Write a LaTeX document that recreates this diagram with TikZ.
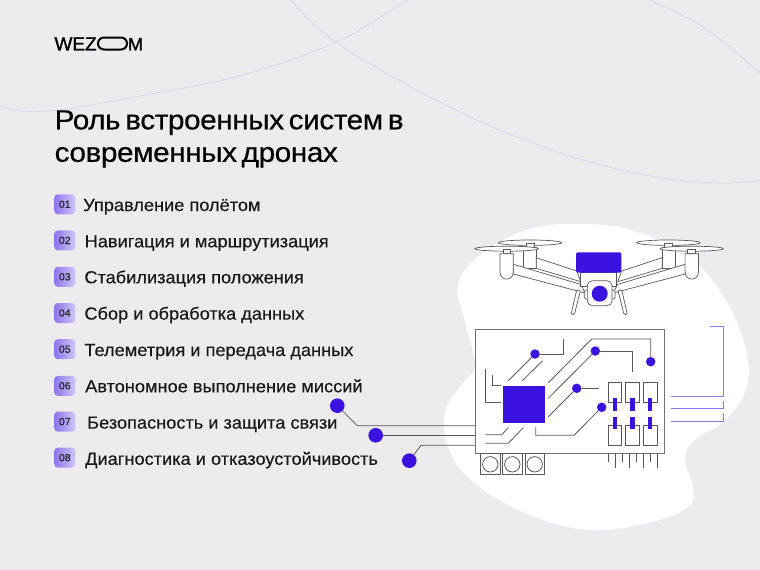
\documentclass[tikz,border=0pt]{standalone}
\usepackage{fontspec}
\setmainfont{Liberation Sans}
\newfontfamily\titlef[FakeBold=0.45,FakeStretch=1.08,LetterSpace=-1.5,WordSpace=0.6]{Liberation Sans}
\newfontfamily\itemf[FakeBold=0.3,FakeStretch=1.04]{Liberation Sans}
\newfontfamily\numf[FakeBold=0.4]{Liberation Sans}
\newfontfamily\logof[FakeBold=1.2]{Liberation Sans}
\definecolor{bgc}{HTML}{ECECEE}
\definecolor{blu}{HTML}{3C12E0}
\definecolor{lin}{HTML}{58585C}
\definecolor{pur}{HTML}{8A78EC}
\definecolor{fnt}{HTML}{D2D2F2}
\tikzset{
  dotn/.style={circle,fill=blu,inner sep=0pt,minimum size=9.5pt},
  bigdot/.style={circle,fill=blu,inner sep=0pt,minimum size=14.6pt},
  trace/.style={draw=lin,line width=0.8pt},
  dr/.style={draw=lin,line width=0.7pt,fill=white},
  box/.style={draw=lin,line width=0.8pt},
  purl/.style={draw=pur,line width=0.9pt},
  bar/.style={fill=blu},
  faint/.style={draw=fnt,line width=0.6pt},
  badge/.style={rectangle,rounded corners=3.5pt,left color=blu!58!white,right color=blu!24!white,minimum width=21pt,minimum height=20pt,inner sep=0pt,font=\numf\fontsize{10.5}{12}\selectfont,text=black!85},
  item/.style={anchor=base west,inner sep=0pt,font=\itemf\fontsize{17.5}{20}\selectfont,text=black!90},
  ttl/.style={anchor=base west,inner sep=0pt,font=\titlef\fontsize{27.5}{32}\selectfont,text=black},
}
\newcommand{\halfdrone}{%
  \path[dr] (530,242.7) ellipse (31.7 and 2.7);
  \path[dr] (526.3,243.3) rectangle (534.3,247.3);
  \path[dr] (523.3,247.3) rectangle (536.3,268.3);
  \path[dr] (536.3,257.7) -- (576.7,271) -- (580.7,281.7) -- (536.3,268.3) -- cycle;
  \path[dr] (513.3,264.3) -- (581,284.5) -- (585,293) -- (513.3,274) -- cycle;
  \path[dr] (506.7,248.7) ellipse (31.7 and 2.5);
  \path[dr] (503,249.3) rectangle (510.7,253.7);
  \path[dr] (500,253.7) -- (500,272) .. controls (500,281.5) and (513.3,281.5) .. (513.3,272) -- (513.3,253.7) -- cycle;
  \path[dr,rounded corners=1.3pt] (576.7,290) -- (580.5,290) -- (574.4,314.5) -- (571,314.5) -- cycle;
}
\begin{document}
\begin{tikzpicture}[x=1pt,y=-1pt]
\useasboundingbox (0,0) rectangle (760,570);
\fill[bgc] (0,0) rectangle (760,570);
% faint arcs
\begin{scope}
\clip (0,0) rectangle (760,570);
\draw[faint] plot[smooth,tension=0.7] coordinates {(-10,105) (0,107) (48,111) (145,95) (242,75) (336,42) (407,0) (420,-10)};
\draw[faint] plot[smooth,tension=0.7] coordinates {(285,-10) (291,0) (336,42) (436,100) (533,143) (630,172) (717,183) (770,178)};
\draw[faint] plot[smooth,tension=0.7] coordinates {(635,-10) (650,0) (703,27) (760,73) (770,85)};
\end{scope}
% blob
\fill[white] plot[smooth cycle,tension=0.65] coordinates {(587,224) (530,229) (480,255) (458,285) (465,322) (475,365) (463,383) (445,412) (450,452) (477,485) (530,515) (590,530) (647,523) (687,508) (693,488) (685,458) (697,438) (723,422) (745,392) (747,355) (727,302) (690,258) (637,232)};
% logo
\node[anchor=base west,inner sep=0pt,font=\logof\fontsize{19}{20}\selectfont] (wez) at (54.3,50.4) {WEZ};
\node[draw=black,line width=2pt,rounded corners=6pt,inner sep=0pt,minimum width=29pt,minimum height=12pt] (logoo) at (112.5,43.5) {};
\node[anchor=base west,inner sep=0pt,font=\logof\fontsize{18}{20}\selectfont] (logom) at (127.8,50.4) {M};
% title
\node[ttl] (t1) at (54.5,129.3) {Роль встроенных систем в};
\node[ttl] (t2) at (54.5,161.8) {современных дронах};
% badges & list
\node[badge] (b1) at (64.8,204.3) {01};
\node[badge] (b2) at (64.8,240.4) {02};
\node[badge] (b3) at (64.8,276.8) {03};
\node[badge] (b4) at (64.8,313) {04};
\node[badge] (b5) at (64.8,349.2) {05};
\node[badge] (b6) at (64.8,385.8) {06};
\node[badge] (b7) at (64.8,421.6) {07};
\node[badge] (b8) at (64.8,457.6) {08};
\node[item] (i1) at (83,211) {Управление полётом};
\node[item] (i2) at (84.5,247.3) {Навигация и маршрутизация};
\node[item] (i3) at (84.2,283.3) {Стабилизация положения};
\node[item] (i4) at (84.2,319.6) {Сбор и обработка данных};
\node[item] (i5) at (84.2,356) {Телеметрия и передача данных};
\node[item] (i6) at (85,392.3) {Автономное выполнение миссий};
\node[item] (i7) at (87,428.6) {Безопасность и защита связи};
\node[item] (i8) at (85,464.8) {Диагностика и отказоустойчивость};
% drone
\halfdrone
\begin{scope}[shift={(1198.4,0)},xscale=-1]
\halfdrone
\end{scope}
\path[dr] (580.7,272.7) rectangle (616.7,286.7);
\path[dr,rounded corners=1.5pt] (584.3,290) rectangle (615,299);
\node[draw=lin,line width=0.7pt,fill=white,rounded corners=5pt,minimum width=24.7pt,minimum height=25pt,inner sep=0pt] (cam) at (599.7,293.2) {};
\node[circle,fill=blu,inner sep=0pt,minimum size=16pt] (lens) at (599.7,293.7) {};
\node[fill=blu,rounded corners=1.5pt,minimum width=45.3pt,minimum height=20.4pt,inner sep=0pt] (payload) at (598.7,262.5) {};
% board
\node[draw=lin!85,line width=1pt,fill=white,minimum width=189pt,minimum height=123.3pt,inner sep=0pt] (board) at (569.8,391.35) {};
\node[fill=blu,minimum width=41.7pt,minimum height=37.3pt,inner sep=0pt] (chip) at (523.85,404.65) {};
% dots
\node[dotn] (dA) at (535,354) {};
\node[dotn] (dB) at (595.3,351) {};
\node[dotn] (dC) at (576.7,388.3) {};
\node[dotn] (dD) at (601.7,407.3) {};
\node[dotn] (dE) at (650.7,361.7) {};
\node[bigdot] (L1) at (337.3,405.7) {};
\node[bigdot] (L2) at (375.7,435.3) {};
\node[bigdot] (L3) at (409.3,460.7) {};
% traces
\draw[trace] (dA) -- (563.3,354) -- (563.3,339);
\draw[trace] (dA) -- (508.3,380.7);
\draw[trace] (542.7,360.7) -- (522.3,380.7);
\draw[trace] (485.3,369) -- (485.3,402.3) -- (500.7,402.3);
\draw[trace] (492.7,375.3) -- (492.7,385.7) -- (500.7,385.7);
\draw[trace] (548.3,382.7) -- (591.7,339) -- (650.7,339) -- (dE);
\draw[trace] (dB) -- (632.7,351) -- (632.7,372.3);
\draw[trace] (dB) -- (548.3,398.3);
\draw[trace] (dC) -- (599.3,388.3);
\draw[trace] (dC) -- (548.3,416.7);
\draw[trace] (dD) -- (574,435.3) -- (535.7,435.3) -- (535.7,427.3);
\draw[trace] (508.3,427.7) -- (501.7,434.7) -- (485.3,434.7);
\draw[trace] (523.3,427.7) -- (508.3,443.3) -- (485.3,443.3);
% external leads
\coordinate (k1) at (357.3,425.7);
\coordinate (k3) at (421,445.3);
\draw[trace] (L1) -- (k1) -- (k1 -| board.west);
\draw[trace] (L2) -- (L2 -| board.west);
\draw[trace] (L3) -- (k3) -- (k3 -| board.west);
% pads
\foreach \n/\xa/\xb/\cx in {1/480.7/500/490.3,2/502.7/522/512.3,3/525/544.3/534.7}{
  \draw[box] (\xa,453) rectangle (\xb,474.3);
  \node[draw=lin,line width=0.8pt,circle,minimum size=15.4pt,inner sep=0pt] (pad\n) at (\cx,464.3) {};
}
% components
\foreach \xa/\xb/\c in {608.3/621.7/615,625.7/639.7/632.4,643.7/657.3/650.2}{
  \draw[box] (\xa,382.7) rectangle (\xb,402.7);
  \draw[box] (\xa,425.3) rectangle (\xb,445.3);
  \fill[bar] (\c-2.2,398.3) rectangle (\c+2.2,411);
  \fill[bar] (\c-2.2,417) rectangle (\c+2.2,429.3);
}
% pins
\foreach \x/\l in {608.3/461.7,615.3/467.7,622.3/461.7,629.3/467.7,636.3/461.7,643.3/467.7,650.3/461.7,657.3/467.7}{
  \draw[trace] (\x,453) -- (\x,\l);
}
% purple brackets
\draw[purl] (710,326.3) -- (723.3,326.3) -- (723.3,396) -- (670.7,396);
\draw[purl] (723.3,400.7) -- (723.3,408.3) -- (670.7,408.3);
\draw[purl] (723.3,413.3) -- (723.3,421) -- (670.7,421);
\end{tikzpicture}
\end{document}
